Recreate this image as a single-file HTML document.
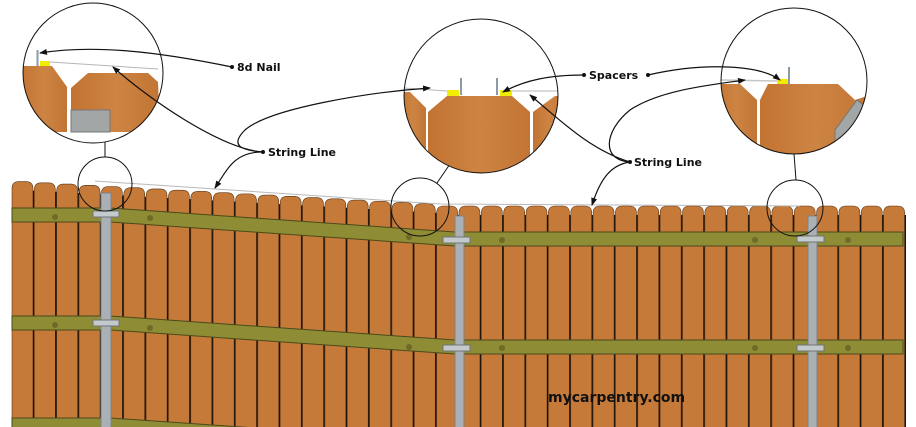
<!DOCTYPE html>
<html><head><meta charset="utf-8"><style>
html,body{margin:0;padding:0;background:#fff;width:916px;height:427px;overflow:hidden}
svg{display:block}
text{font-family:Verdana,"DejaVu Sans",sans-serif;font-weight:bold;fill:#111}
</style></head><body>
<svg id="s" width="916" height="427" viewBox="0 0 916 427" xmlns="http://www.w3.org/2000/svg">
<defs>
<marker id="ar" markerWidth="8" markerHeight="6" refX="7" refY="3" orient="auto" markerUnits="userSpaceOnUse"><path d="M0,0 L8,3 L0,6 Z" fill="#111"/></marker>
<linearGradient id="wd" x1="0" x2="1"><stop offset="0" stop-color="#c27332"/><stop offset="0.5" stop-color="#cd8443"/><stop offset="1" stop-color="#c27534"/></linearGradient>
<clipPath id="c1"><circle cx="93" cy="73" r="70"/></clipPath>
<clipPath id="c2"><circle cx="481" cy="96" r="77"/></clipPath>
<clipPath id="c3"><circle cx="794" cy="81" r="73"/></clipPath>
</defs>
<g id="pk"></g>
<g fill="#8e8c34" stroke="#4a4a1a" stroke-width="1">
<polygon points="12,208 110,208 455,232 903,232 903,246 455,246 110,222 12,222"/>
<polygon points="12,316 110,316 455,340 903,340 903,354 455,354 110,330 12,330"/>
<polygon points="12,418 110,418 300,431 12,431"/>
</g>
<g fill="#6e6a28">
<circle cx="55" cy="217" r="3"/><circle cx="150" cy="218" r="3"/><circle cx="409" cy="237" r="3"/><circle cx="502" cy="240" r="3"/><circle cx="755" cy="240" r="3"/><circle cx="848" cy="240" r="3"/>
<circle cx="55" cy="325" r="3"/><circle cx="150" cy="328" r="3"/><circle cx="409" cy="347" r="3"/><circle cx="502" cy="348" r="3"/><circle cx="755" cy="348" r="3"/><circle cx="848" cy="348" r="3"/>
</g>
<g fill="#aab0b4" stroke="#7d8387" stroke-width="1">
<rect x="101" y="193" width="10" height="240"/>
<rect x="455" y="216" width="9" height="220"/>
<rect x="808" y="216" width="9" height="220"/>
</g>
<g fill="#c4c9cc" stroke="#6f7579" stroke-width="1">
<rect x="93" y="211" width="26" height="6"/><rect x="93" y="320" width="26" height="6"/>
<rect x="443" y="237" width="27" height="6"/><rect x="443" y="345" width="27" height="6"/>
<rect x="797" y="236" width="27" height="6"/><rect x="797" y="345" width="27" height="6"/>
</g>
<polyline points="95,181 440,204 800,206" fill="none" stroke="#b8b8b8" stroke-width="1"/>
<g fill="none" stroke="#111" stroke-width="1">
<circle cx="105" cy="184" r="27"/>
<circle cx="420" cy="207" r="29"/>
<circle cx="795" cy="208" r="28"/>
<line x1="105" y1="142" x2="105" y2="157"/>
<line x1="450" y1="164" x2="437" y2="183"/>
<line x1="794" y1="154" x2="796" y2="180"/>
</g>
<g clip-path="url(#c1)">
<rect x="0" y="0" width="200" height="200" fill="#fff"/>
<polygon points="20,66 52,66 67,87 67,132 20,132" fill="url(#wd)"/>
<polygon points="71,88 88,73 148,73 158,82 160,132 71,132" fill="url(#wd)"/>
<rect x="71" y="110" width="39" height="22" fill="#a3a6a7" stroke="#777"/>
<line x1="50" y1="62" x2="158" y2="69" stroke="#b5b5b5"/>
<rect x="40" y="61" width="10" height="5" fill="#f2ec00"/>
<rect x="36.5" y="50" width="2" height="16" fill="#8a9aa8"/>
</g>
<circle cx="93" cy="73" r="70" fill="none" stroke="#111"/>
<g clip-path="url(#c2)">
<rect x="400" y="15" width="170" height="160" fill="#fff"/>
<polygon points="400,92 410,92 426,108 426,180 400,180" fill="url(#wd)"/>
<polygon points="428,112 447,96 512,96 530,112 530,180 428,180" fill="url(#wd)"/>
<polygon points="533,112 555,96 565,96 565,180 533,180" fill="url(#wd)"/>
<line x1="404" y1="88" x2="447" y2="91" stroke="#b5b5b5"/>
<line x1="512" y1="91" x2="558" y2="91" stroke="#b5b5b5"/>
<rect x="447" y="90" width="12" height="6" fill="#f2ec00"/>
<rect x="500" y="90" width="12" height="6" fill="#f2ec00"/>
<rect x="460" y="78" width="2" height="17" fill="#8a9aa8"/>
<rect x="496" y="78" width="2" height="17" fill="#8a9aa8"/>
</g>
<circle cx="481" cy="96" r="77" fill="none" stroke="#111"/>
<g clip-path="url(#c3)">
<rect x="715" y="0" width="160" height="160" fill="#fff"/>
<polygon points="715,84 740,84 757,100 757,160 715,160" fill="url(#wd)"/>
<polygon points="760,100 768,84 838,84 855,100 870,95 870,160 760,160" fill="url(#wd)"/>
<polygon points="835,130 857,100 870,110 870,160 835,145" fill="#a3a6a7" stroke="#777"/>
<line x1="721" y1="80" x2="778" y2="81" stroke="#c5c5c5" stroke-width="1.5"/>
<rect x="777" y="79" width="11" height="5" fill="#f2ec00"/>
<rect x="788" y="67" width="2" height="17" fill="#8a9aa8"/>
</g>
<circle cx="794" cy="81" r="73" fill="none" stroke="#111"/>
<g fill="none" stroke="#111" stroke-width="1.2">
<path d="M232,67 C150,50 90,45 40,53" marker-end="url(#ar)"/>
<path d="M262,152 C220,148 150,100 113,67" marker-end="url(#ar)"/>
<path d="M262,152 C240,150 230,145 245,130 C270,108 370,92 430,88" marker-end="url(#ar)"/>
<path d="M262,152 C235,152 228,168 215,188" marker-end="url(#ar)"/>
<path d="M584,75 C550,75 525,80 503,92" marker-end="url(#ar)"/>
<path d="M648,75 C705,62 760,65 780,80" marker-end="url(#ar)"/>
<path d="M630,162 C590,150 560,120 530,95" marker-end="url(#ar)"/>
<path d="M630,162 C600,160 605,130 630,110 C660,90 710,85 745,80" marker-end="url(#ar)"/>
<path d="M630,162 C610,165 600,180 592,205" marker-end="url(#ar)"/>
</g>
<g fill="#111"><circle cx="232" cy="67" r="2"/><circle cx="263" cy="152" r="2"/><circle cx="584" cy="75" r="2"/><circle cx="648" cy="75" r="2"/><circle cx="630" cy="162" r="2"/></g>
<text x="237" y="71" font-size="11">8d Nail</text>
<text x="268" y="156" font-size="11">String Line</text>
<text x="589" y="79" font-size="11">Spacers</text>
<text x="634" y="166" font-size="11">String Line</text>
<text x="548" y="402" font-size="14">mycarpentry.com</text>
</svg>
<script>
(function(){
var g=document.getElementById('pk'),h='';
var pw=22.35;
for(var i=0;i<40;i++){
 var x=12+i*pw,w=pw-1.4,cx=x+w/2;
 var t=cx<445?181+(cx-12)*0.055:206;
 h+='<path d="M'+x+',430 V'+(t+7)+' Q'+x+','+t+' '+(x+7)+','+t+' H'+(x+w-7)+' Q'+(x+w)+','+t+' '+(x+w)+','+(t+7)+' V430 Z" fill="#c67a3a" stroke="#5a3515" stroke-width="0.6"/>';
 h+='<line x1="'+(x+w+0.7)+'" y1="'+(t+9)+'" x2="'+(x+w+0.7)+'" y2="430" stroke="#1e140a" stroke-width="1.4"/>';
}
g.innerHTML=h;
})();
</script>
</body></html>
